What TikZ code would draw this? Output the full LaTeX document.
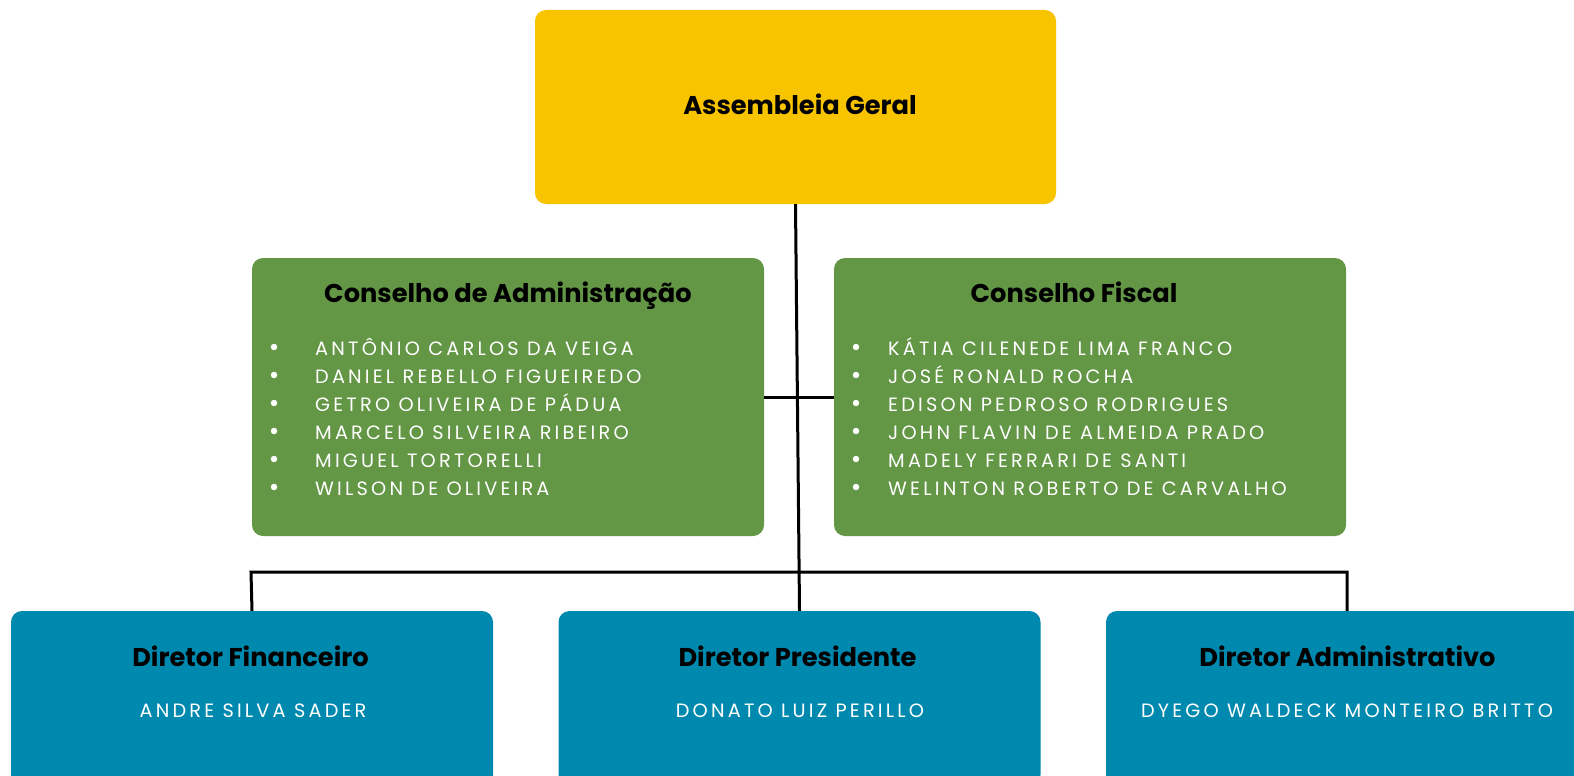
\documentclass[tikz,border=0pt]{standalone}
\usepackage{fontspec}
\setmainfont{Poppins}
\newfontfamily\titlefont[BoldFont={* Bold}]{Poppins}
\newfontfamily\namefont[LetterSpace=16.5]{Poppins}
\definecolor{ygold}{RGB}{248,196,0}
\definecolor{cgreen}{RGB}{99,150,69}
\definecolor{dblue}{RGB}{0,137,174}
\begin{document}
\begin{tikzpicture}[x=1pt,y=-1pt,
  boxbase/.style={rounded corners=11pt, inner sep=0pt, draw=none},
  yellowbox/.style={boxbase, fill=ygold, minimum width=521pt, minimum height=194pt},
  greenbox/.style={boxbase, fill=cgreen, minimum width=512pt, minimum height=278pt},
  bluebox/.style={boxbase, fill=dblue, minimum width=482pt, minimum height=175pt},
  ttl/.style={font=\titlefont\bfseries\fontsize{25.7}{28}\selectfont, text=black, inner sep=0pt, anchor=base},
  nametext/.style={font=\namefont\fontsize{19.3}{28}\selectfont, text=white, inner sep=0pt},
  listname/.style={nametext, anchor=base west},
  bulletdot/.style={circle, fill=white, inner sep=0pt, minimum size=6.5pt},
  conn/.style={line width=3pt, draw=black}
]
\useasboundingbox (0,0) rectangle (1574,776);
\clip (0,0) rectangle (1574,776);
\fill[white] (0,0) rectangle (1574,776);

\node[yellowbox] (ag) at (795.5,107) {};
\node[greenbox] (ca) at (508,397) {};
\node[greenbox] (cf) at (1090,397) {};
\node[bluebox] (df) at (252,698.5) {};
\node[bluebox] (dp) at (799.5,698.5) {};
\node[bluebox] (da) at (1347,698.5) {};

\coordinate (busL) at (251,572);
\coordinate (busR) at (1347,572);

\draw[conn] (ca.east) -- (cf.west);
\draw[conn, line join=miter] (df.north) -- (busL) -- (busR) -- (da.north);
\draw[conn] (ag.south) -- (dp.north);

\node[ttl] (agt) at (800,114) {Assembleia Geral};
\node[ttl] (cat) at (508,302) {Conselho de Administração};
\node[ttl] (cft) at (1074,302) {Conselho Fiscal};
\node[ttl] (dft) at (250.5,666) {Diretor Financeiro};
\node[ttl] (dpt) at (797.5,666) {Diretor Presidente};
\node[ttl] (dat) at (1347.5,666) {Diretor Administrativo};

\foreach \n [count=\i] in {ANTÔNIO CARLOS DA VEIGA,DANIEL REBELLO FIGUEIREDO,GETRO OLIVEIRA DE PÁDUA,MARCELO SILVEIRA RIBEIRO,MIGUEL TORTORELLI,WILSON DE OLIVEIRA}{
  \node[bulletdot] (cab\i) at (274,{347+28*(\i-1)}) {};
  \node[listname] (can\i) at (315,{355+28*(\i-1)}) {\n};
}
\foreach \n [count=\i] in {KÁTIA CILENEDE LIMA FRANCO,JOSÉ RONALD ROCHA,EDISON PEDROSO RODRIGUES,JOHN FLAVIN DE ALMEIDA PRADO,MADELY FERRARI DE SANTI,WELINTON ROBERTO DE CARVALHO}{
  \node[bulletdot] (cfb\i) at (856,{347+28*(\i-1)}) {};
  \node[listname] (cfn\i) at (888,{355+28*(\i-1)}) {\n};
}

\node[nametext, anchor=base] (dfn) at (253,717) {ANDRE SILVA SADER};
\node[nametext, anchor=base] (dpn) at (800,717) {DONATO LUIZ PERILLO};
\node[nametext, anchor=base] (dan) at (1347,717) {DYEGO WALDECK MONTEIRO BRITTO};
\end{tikzpicture}
\end{document}
